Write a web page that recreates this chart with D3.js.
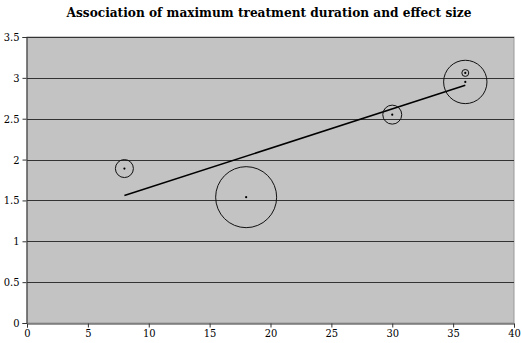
<!DOCTYPE html>
<html><head><meta charset="utf-8">
<script src="https://cdn.jsdelivr.net/npm/d3@7"></script>
<style>body{margin:0;background:#fff;}</style>
</head><body>
<svg id="c" width="522" height="343"></svg>
<script>
const title = "Association of maximum treatment duration and effect size";
const durations = [8, 18, 30, 36, 36];
const effects = [1.89, 1.54, 2.55, 2.95, 3.06];
const weights = [81, 930, 90, 470, 12];
const trendX = [8, 36];
const trendY = [1.56, 2.91];
const xTicks = [0, 5, 10, 15, 20, 25, 30, 35, 40];
const yTicks = [0, 0.5, 1, 1.5, 2, 2.5, 3, 3.5];

const FONT = "'DejaVu Serif Condensed', 'DejaVu Serif', serif";
const svg = d3.select("#c");
const m = {l: 27, r: 8, t: 37, b: 20};
const W = 522, H = 343;
const x = d3.scaleLinear().domain([0, 40]).range([m.l, W - m.r]);
const y = d3.scaleLinear().domain([0, 3.5]).range([H - m.b, m.t]);
const r = d3.scaleSqrt().domain([0, 930]).range([0, 30.5]);

svg.append("rect").attr("x", x(0)).attr("y", y(3.5)).attr("width", x(40) - x(0)).attr("height", y(0) - y(3.5))
  .attr("fill", "#c3c3c3").attr("stroke", "#999").attr("stroke-width", 1);

svg.append("g").selectAll("line").data(yTicks.filter(d => d > 0)).join("line")
  .attr("x1", x(0)).attr("x2", x(40)).attr("y1", d => Math.round(y(d)) + 0.5).attr("y2", d => Math.round(y(d)) + 0.5)
  .attr("stroke", "#333").attr("stroke-width", 1);

const xa = svg.append("g").attr("transform", `translate(0,${Math.round(y(0)) + 0.5})`)
  .call(d3.axisBottom(x).tickValues(xTicks).tickSize(4).tickPadding(2).tickFormat(d3.format("")));
const ya = svg.append("g").attr("transform", `translate(${Math.round(x(0)) - 0.5},0)`)
  .call(d3.axisLeft(y).tickValues(yTicks).tickSize(4).tickPadding(3).tickFormat(d3.format("")));
[xa, ya].forEach(a => {
  a.attr("font-family", FONT).attr("font-size", 11);
  a.selectAll("path,line").attr("stroke", "#333");
  a.selectAll("text").attr("fill", "#000");
});

svg.append("line").attr("x1", x(trendX[0])).attr("y1", y(trendY[0])).attr("x2", x(trendX[1])).attr("y2", y(trendY[1]))
  .attr("stroke", "#000").attr("stroke-width", 1.5);

const pts = durations.map((d, i) => ({x: d, y: effects[i], w: weights[i]}));
svg.append("g").selectAll("circle").data(pts).join("circle")
  .attr("cx", d => x(d.x)).attr("cy", d => y(d.y)).attr("r", d => r(d.w))
  .attr("fill", "none").attr("stroke", "#111").attr("stroke-width", 1);
svg.append("g").selectAll("circle").data(pts).join("circle")
  .attr("cx", d => x(d.x)).attr("cy", d => y(d.y)).attr("r", 1.1).attr("fill", "#000");

svg.append("text").attr("x", 269).attr("y", 17).attr("text-anchor", "middle")
  .attr("font-family", FONT).attr("font-size", 13.5).attr("font-weight", "bold").text(title);
</script>
</body></html>
